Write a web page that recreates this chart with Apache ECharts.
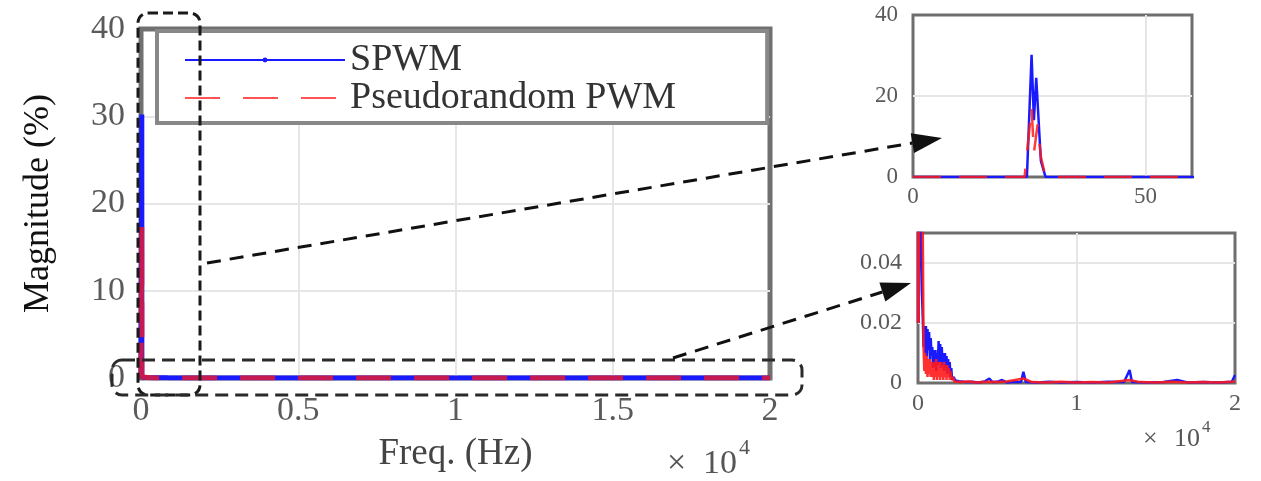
<!DOCTYPE html>
<html><head><meta charset="utf-8">
<script src="https://cdn.jsdelivr.net/npm/echarts@6/dist/echarts.min.js"></script>
<style>html,body{margin:0;padding:0;background:#fff}#c{width:1261px;height:481px}</style>
</head><body><div id="c"></div>
<script>
// ---------- data (Hz, % magnitude) ----------
const spwmFreq = [0, 12, 24.5, 25.5, 26, 26.5, 27.5, 28.5, 45, 60,
  100, 150, 200, 250, 300, 350, 400, 450, 500, 550, 600, 650, 700, 750, 800, 850, 900, 950, 1000,
  1050, 1100, 1150, 1200, 1250, 1300, 1350, 1400, 1450, 1500, 1550, 1600, 1650, 1700, 1750, 1800,
  1850, 1900, 1950, 2000, 2050, 2100, 2150, 2250, 2350, 2600, 3000, 3400, 3800, 4200, 4500, 4700,
  5000, 5300, 5600, 6100, 6500, 6650, 6800, 7500, 8300, 9000, 10000, 11000, 12000, 13000, 13350,
  13500, 14500, 15500, 16350, 17000, 18000, 19000, 19800, 20000];
const spwmMag = [0.02, 0.02, 0.02, 30.2, 14, 24.5, 4, 0.03, 0.02, 0.02,
  0.08, 0.06, 0.045, 0.03, 0.022, 0.012, 0.019, 0.01, 0.019, 0.009, 0.018, 0.011, 0.017, 0.008, 0.015, 0.01, 0.012, 0.005, 0.011,
  0.006, 0.011, 0.004, 0.01, 0.006, 0.014, 0.007, 0.013, 0.005, 0.012, 0.006, 0.01, 0.004, 0.01, 0.005, 0.009,
  0.003, 0.008, 0.004, 0.007, 0.002, 0.005, 0.001, 0.002, 0.0008, 0.0006, 0.0003, 0.0004, 0.0002, 0.0005, 0.0015, 0.0003,
  0.0004, 0.001, 0.0002, 0.0004, 0.0003, 0.0037, 0.0003, 0.0002, 0.0004, 0.0002, 0.0003, 0.0002, 0.0004, 0.0003, 0.0043,
  0.0003, 0.0002, 0.0003, 0.001, 0.0002, 0.0003, 0.0002, 0.0004, 0.0027];

const prpwmFreq = [0, 12, 24, 25.5, 26, 26.8, 27.5, 28.5, 45, 60,
  100, 150, 200, 250, 300, 350, 400, 450, 500, 550, 600, 650, 700, 750, 800, 850, 900, 950, 1000,
  1050, 1100, 1150, 1200, 1250, 1300, 1350, 1400, 1450, 1500, 1550, 1600, 1650, 1700, 1750, 1800,
  1850, 1900, 1950, 2000, 2050, 2100, 2200, 2300, 2700, 3200, 3700, 4300, 5000, 5600, 6650, 7200,
  8000, 9000, 10000, 11000, 12000, 13350, 14000, 15000, 16000, 17000, 18000, 19000, 20000];
const prpwmMag = [0.02, 0.02, 0.02, 17.3, 6, 13, 5, 0.03, 0.02, 0.02,
  0.12, 0.08, 0.065, 0.055, 0.052, 0.012, 0.004, 0.01, 0.003, 0.009, 0.002, 0.008, 0.003, 0.008, 0.002, 0.007, 0.002, 0.007, 0.001,
  0.007, 0.002, 0.008, 0.001, 0.007, 0.002, 0.007, 0.001, 0.007, 0.002, 0.006, 0.001, 0.007, 0.002, 0.006, 0.001,
  0.006, 0.002, 0.005, 0.001, 0.004, 0.001, 0.002, 0.0005, 0.0003, 0.0005, 0.0002, 0.0004, 0.0003, 0.0005, 0.0015, 0.0003,
  0.0002, 0.0004, 0.0002, 0.0003, 0.0002, 0.001, 0.0003, 0.0002, 0.0004, 0.0002, 0.0003, 0.0002, 0.0005];

const seriesNames = ['SPWM', 'Pseudorandom PWM'];
const mainXLabels = ['0', '0.5', '1', '1.5', '2'];
const mainYLabels = ['0', '10', '20', '30', '40'];
const zoomAXLabels = ['0', '50'];
const zoomAYLabels = ['0', '20', '40'];
const zoomBXLabels = ['0', '1', '2'];
const zoomBYLabels = ['0', '0.02', '0.04'];

// ---------- chart ----------
const FONT = '"Liberation Serif", "Times New Roman", serif';
const pairs = (f, m) => f.map((x, i) => [x, m[i]]);
const spwm = pairs(spwmFreq, spwmMag);
const prpwm = pairs(prpwmFreq, prpwmMag);
const BLUE = '#1a1aff', RED = '#ff1a1a';
const split = { show: true, showMinLine: false, showMaxLine: false, lineStyle: { color: '#e6e6e6', width: 2 } };
const lbl = (size, margin, arr, step) => ({
  fontFamily: FONT, fontSize: size, color: '#5a5a5a', margin: margin,
  formatter: v => { const k = Math.round(v / step); return Math.abs(v - k * step) < step * 1e-6 ? (arr[k] ?? '') : ''; }
});

function arrow(x1, y1, x2, y2) {
  const dx = x2 - x1, dy = y2 - y1, L = Math.hypot(dx, dy), ux = dx / L, uy = dy / L, nx = -uy, ny = ux;
  const hl = 30, hw = 10, bx = x2 - ux * hl, by = y2 - uy * hl;
  return [
    { type: 'line', z: 100, shape: { x1: x1, y1: y1, x2: bx, y2: by }, style: { stroke: '#111', lineWidth: 3, lineDash: [14, 9] } },
    { type: 'polygon', z: 100, shape: { points: [[x2, y2], [bx + nx * hw, by + ny * hw], [bx - nx * hw, by - ny * hw]] }, style: { fill: '#111' } }
  ];
}
const txt = (x, y, s, size) => ({ type: 'text', z: 100, x: x, y: y,
  style: { text: s, fontFamily: FONT, fontSize: size, fill: '#555', verticalAlign: 'top' } });

const option = {
  animation: false,
  backgroundColor: '#fff',
  grid: [
    { left: 141, top: 29, width: 629, height: 349, show: true, borderColor: '#707070', borderWidth: 5 },
    { left: 913, top: 15, width: 279, height: 162, show: true, borderColor: '#6e6e6e', borderWidth: 3 },
    { left: 918, top: 233, width: 317, height: 150, show: true, borderColor: '#6e6e6e', borderWidth: 3 }
  ],
  xAxis: [
    { gridIndex: 0, type: 'value', min: 0, max: 20000, interval: 5000,
      axisLine: { show: false }, axisTick: { show: false }, splitLine: split,
      axisLabel: lbl(34, 16, mainXLabels, 5000),
      name: 'Freq. (Hz)', nameLocation: 'middle', nameGap: 58,
      nameTextStyle: { fontFamily: FONT, fontSize: 37, color: '#444' } },
    { gridIndex: 1, type: 'value', min: 0, max: 60, interval: 50,
      axisLine: { show: false }, axisTick: { show: false }, splitLine: split,
      axisLabel: Object.assign(lbl(23, 8, zoomAXLabels, 50), { showMaxLabel: false }) },
    { gridIndex: 2, type: 'value', min: 0, max: 20000, interval: 10000,
      axisLine: { show: false }, axisTick: { show: false }, splitLine: split,
      axisLabel: lbl(24, 9, zoomBXLabels, 10000) }
  ],
  yAxis: [
    { gridIndex: 0, type: 'value', min: 0, max: 40, interval: 10,
      axisLine: { show: false }, axisTick: { show: false }, splitLine: split,
      axisLabel: lbl(34, 16, mainYLabels, 10),
      name: 'Magnitude (%)', nameLocation: 'middle', nameGap: 84, nameRotate: 90,
      nameTextStyle: { fontFamily: FONT, fontSize: 36, color: '#111' } },
    { gridIndex: 1, type: 'value', min: 0, max: 40, interval: 20,
      axisLine: { show: false }, axisTick: { show: false }, splitLine: split,
      axisLabel: lbl(23, 15, zoomAYLabels, 20) },
    { gridIndex: 2, type: 'value', min: 0, max: 0.05, interval: 0.02,
      axisLine: { show: false }, axisTick: { show: false }, splitLine: split,
      axisLabel: Object.assign(lbl(24, 16, zoomBYLabels, 0.02), { showMaxLabel: false }) }
  ],
  legend: {
    show: true, orient: 'vertical', left: 157, top: 31,
    data: [
      { name: seriesNames[0], itemStyle: { color: BLUE } },
      { name: seriesNames[1], itemStyle: { opacity: 0 } }
    ],
    backgroundColor: '#fff', borderColor: '#888', borderWidth: 4,
    padding: [10, 91, 6, 27], itemGap: 0, itemWidth: 160, itemHeight: 6,
    textStyle: { fontFamily: FONT, fontSize: 38, color: '#333' }
  },
  series: [
    { name: seriesNames[0], type: 'line', xAxisIndex: 0, yAxisIndex: 0, data: spwm,
      symbol: 'circle', symbolSize: 4, showSymbol: false, itemStyle: { color: BLUE },
      lineStyle: { color: BLUE, width: 5 }, z: 2 },
    { name: seriesNames[1], type: 'line', xAxisIndex: 0, yAxisIndex: 0, data: prpwm,
      symbol: 'none', itemStyle: { color: RED },
      lineStyle: { color: RED, width: 5, type: [35, 23], opacity: 0.75 }, z: 3 },
    { name: seriesNames[0], type: 'line', xAxisIndex: 1, yAxisIndex: 1, data: spwm,
      symbol: 'none', lineStyle: { color: BLUE, width: 2.5 }, z: 2 },
    { name: seriesNames[1], type: 'line', xAxisIndex: 1, yAxisIndex: 1, data: prpwm,
      symbol: 'none', lineStyle: { color: RED, width: 2.5, type: [28, 18], opacity: 0.85 }, z: 3 },
    { name: seriesNames[0], type: 'line', xAxisIndex: 2, yAxisIndex: 2, data: spwm,
      symbol: 'none', lineStyle: { color: BLUE, width: 2.5 }, z: 2 },
    { name: seriesNames[1], type: 'line', xAxisIndex: 2, yAxisIndex: 2, data: prpwm,
      symbol: 'none', lineStyle: { color: RED, width: 2.5, opacity: 0.9 }, z: 3 }
  ],
  graphic: [
    { type: 'rect', z: 100, shape: { x: 138, y: 13, width: 62, height: 382, r: 10 },
      style: { fill: 'none', stroke: '#1a1a1a', lineWidth: 3, lineDash: [10, 5] } },
    { type: 'rect', z: 100, shape: { x: 112, y: 360, width: 690, height: 35, r: 10 },
      style: { fill: 'none', stroke: '#2a2a2a', lineWidth: 3, lineDash: [13, 7] } },
    ...arrow(207, 263, 942, 138),
    ...arrow(673, 358, 911, 283),
    txt(667, 447, '×', 34), txt(703, 447, '10', 34), txt(739, 437, '4', 22),
    txt(1143, 426, '×', 26), txt(1174, 426, '10', 26), txt(1202, 419, '4', 17)
  ]
};
const chart = echarts.init(document.getElementById('c'));
chart.setOption(option);
</script></body></html>
